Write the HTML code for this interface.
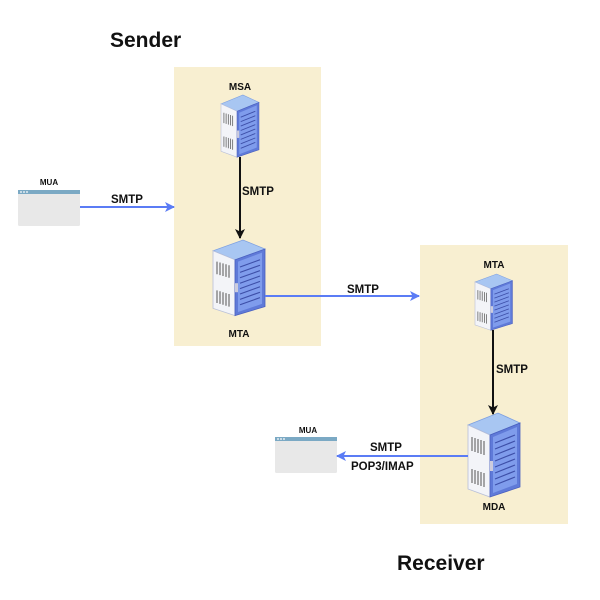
<!DOCTYPE html>
<html><head><meta charset="utf-8"><style>
html,body{margin:0;padding:0;background:#fff;}
svg{display:block;}
text{font-family:"Liberation Sans",sans-serif;font-weight:bold;fill:#111;}
</style></head><body>
<svg width="600" height="600" viewBox="0 0 600 600" xmlns="http://www.w3.org/2000/svg">
<defs>
<g id="srv">
  <polygon points="0,12 30,0 52,10 22,22" fill="#a8c6f2" stroke="#7d9fe0" stroke-width="0.8"/>
  <polygon points="0,12 22,22 22,84 0,76" fill="#f3f4f8" stroke="#b8bfd8" stroke-width="0.8"/>
  <polygon points="22,22 52,10 52,74 22,84" fill="#5f7ad8" stroke="#4a5fbf" stroke-width="0.8"/>
  <polygon points="25,24 49,14 49,71 25,80" fill="#7f9cec"/>
  <g stroke="#3d4fa8" stroke-width="1.2">
    <line x1="27" y1="30" x2="47" y2="22"/><line x1="27" y1="36" x2="47" y2="28"/>
    <line x1="27" y1="42" x2="47" y2="34"/><line x1="27" y1="48" x2="47" y2="40"/>
    <line x1="27" y1="54" x2="47" y2="46"/><line x1="27" y1="60" x2="47" y2="52"/>
    <line x1="27" y1="66" x2="47" y2="58"/><line x1="27" y1="72" x2="47" y2="64"/>
  </g>
  <g stroke="#555" stroke-width="1">
    <line x1="4" y1="24" x2="4" y2="38"/><line x1="7" y1="25" x2="7" y2="39"/><line x1="10" y1="26" x2="10" y2="40"/><line x1="13" y1="27" x2="13" y2="41"/><line x1="16" y1="28" x2="16" y2="42"/>
    <line x1="4" y1="56" x2="4" y2="70"/><line x1="7" y1="57" x2="7" y2="71"/><line x1="10" y1="58" x2="10" y2="72"/><line x1="13" y1="59" x2="13" y2="73"/><line x1="16" y1="60" x2="16" y2="74"/>
  </g>
  <rect x="22" y="48" width="3" height="10" fill="#ccd"/>
</g>
<g id="mua">
  <rect x="0" y="0" width="62" height="36" rx="1.5" fill="#e8e8e8"/>
  <rect x="0" y="0" width="62" height="4" fill="#7ba9c4"/>
  <circle cx="3" cy="2" r="0.9" fill="#fff"/><circle cx="6" cy="2" r="0.9" fill="#fff"/><circle cx="9" cy="2" r="0.9" fill="#fff"/>
</g>
<marker id="ab" markerWidth="10" markerHeight="10" refX="9" refY="5" orient="auto" markerUnits="userSpaceOnUse"><path d="M0,0 L10,5 L0,10 L2.5,5 Z" fill="#5b7cf5"/></marker>
<marker id="ak" markerWidth="10" markerHeight="10" refX="9" refY="5" orient="auto" markerUnits="userSpaceOnUse"><path d="M0,0 L10,5 L0,10 L2.5,5 Z" fill="#111"/></marker>
</defs>
<rect x="174" y="67" width="147" height="279" fill="#f8efd1"/>
<rect x="420" y="245" width="148" height="279" fill="#f8efd1"/>
<text x="110" y="47" font-size="21">Sender</text>
<text x="397" y="570" font-size="21">Receiver</text>

<use href="#mua" x="18" y="190"/>
<text x="49" y="185" font-size="8" text-anchor="middle">MUA</text>
<use href="#mua" x="275" y="437"/>
<text x="308" y="433" font-size="8" text-anchor="middle">MUA</text>

<use href="#srv" transform="translate(221,95) scale(0.73,0.74)"/>
<text x="240" y="90" font-size="10" text-anchor="middle">MSA</text>
<use href="#srv" transform="translate(213,240) scale(1,0.9)"/>
<text x="239" y="337" font-size="10" text-anchor="middle">MTA</text>
<use href="#srv" transform="translate(475,274) scale(0.72,0.67)"/>
<text x="494" y="268" font-size="10" text-anchor="middle">MTA</text>
<use href="#srv" transform="translate(468,413)"/>
<text x="494" y="510" font-size="10" text-anchor="middle">MDA</text>

<line x1="80" y1="207" x2="174" y2="207" stroke="#5b7cf5" stroke-width="2" marker-end="url(#ab)"/>
<text x="111" y="203" font-size="11.5">SMTP</text>
<line x1="240" y1="157" x2="240" y2="238" stroke="#111" stroke-width="2" marker-end="url(#ak)"/>
<text x="242" y="195" font-size="11.5">SMTP</text>
<line x1="265" y1="296" x2="419" y2="296" stroke="#5b7cf5" stroke-width="2" marker-end="url(#ab)"/>
<text x="347" y="293" font-size="11.5">SMTP</text>
<line x1="493" y1="330" x2="493" y2="414" stroke="#111" stroke-width="2" marker-end="url(#ak)"/>
<text x="496" y="373" font-size="11.5">SMTP</text>
<line x1="468" y1="456" x2="337" y2="456" stroke="#5b7cf5" stroke-width="2" marker-end="url(#ab)"/>
<text x="370" y="451" font-size="11.5">SMTP</text>
<text x="351" y="470" font-size="11.5">POP3/IMAP</text>
</svg>
</body></html>
